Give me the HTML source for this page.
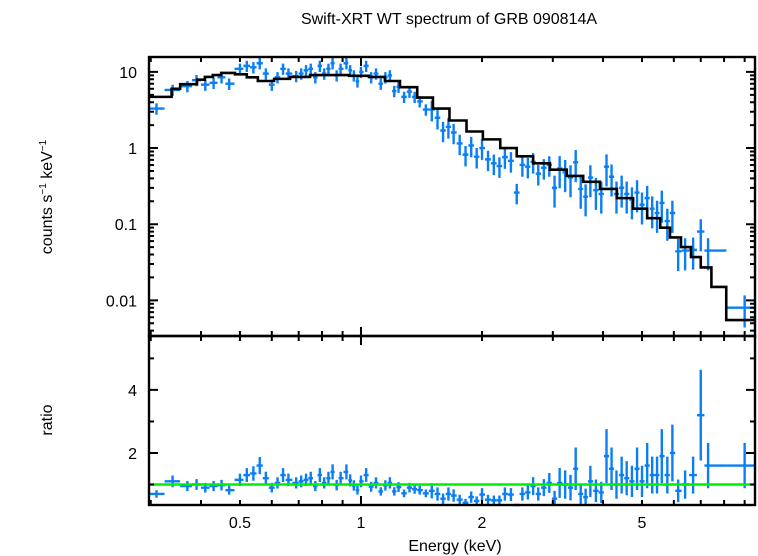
<!DOCTYPE html>
<html><head><meta charset="utf-8"><style>
html,body{margin:0;padding:0;background:#fff;width:758px;height:556px;overflow:hidden}
svg text{font-family:"Liberation Sans",sans-serif;fill:#000}
</style></head><body>
<svg id="chart" width="758" height="556" viewBox="0 0 758 556" xmlns="http://www.w3.org/2000/svg">
<text x="449" y="24" font-size="16" text-anchor="middle">Swift-XRT WT spectrum of GRB 090814A</text>
<text transform="translate(52,197) rotate(-90)" font-size="16" text-anchor="middle">counts s<tspan font-size="10" dy="-6">−1</tspan><tspan dy="6"> keV</tspan><tspan font-size="10" dy="-6">−1</tspan></text>
<text transform="translate(52,420) rotate(-90)" font-size="16" text-anchor="middle">ratio</text>
<text x="455" y="551" font-size="16" text-anchor="middle">Energy (keV)</text>
<g id="g"></g>
</svg>
<script>
const modelE=[0.297,0.338,0.355,0.391,0.409,0.428,0.449,0.486,0.52,0.554,0.608,0.666,0.747,0.934,1.047,1.147,1.25,1.38,1.51,1.66,1.83,2.01,2.22,2.44,2.68,2.95,3.25,3.57,3.93,4.33,4.75,5.15,5.55,5.87,6.25,6.62,7.0,7.44,8.1,9.55];
const modelV=[4.7,6.0,6.9,7.9,8.6,9.1,9.7,9.3,8.5,7.6,8.1,8.6,9.1,8.9,8.6,7.6,6.3,4.6,3.3,2.3,1.65,1.3,1.0,0.78,0.63,0.52,0.43,0.36,0.29,0.22,0.16,0.12,0.09,0.067,0.05,0.037,0.027,0.015,0.0055];
const dataE=[0.31,0.34,0.37,0.39,0.41,0.43,0.45,0.47,0.50,0.52,0.54,0.56,0.58,0.60,0.62,0.64,0.66,0.69,0.71,0.73,0.75,0.77,0.79,0.81,0.83,0.85,0.87,0.89,0.92,0.94,0.96,0.98,1.00,1.03,1.06,1.09,1.12,1.15,1.18,1.21,1.24,1.28,1.32,1.36,1.40,1.45,1.50,1.55,1.60,1.65,1.70,1.76,1.82,1.88,1.94,2.00,2.07,2.14,2.21,2.28,2.36,2.44,2.52,2.60,2.68,2.76,2.85,2.94,3.03,3.12,3.22,3.32,3.42,3.52,3.62,3.72,3.84,3.96,4.08,4.20,4.32,4.45,4.58,4.72,4.86,5.00,5.15,5.30,5.45,5.60,5.78,5.95,6.15,6.40,6.70,7.00,7.30,9.0];
const dataCounts=[3.3,5.8,6.5,7.8,6.8,7.2,8.5,7.0,11,12,11.5,13,9.5,6.8,8.5,11,9.5,8.8,9.5,10.5,11,8.5,12,9.5,11,13,9,11,13,10.5,9,7.5,10,12,8.5,9.5,7,8.5,9,5.6,6.4,4.7,5.5,4.7,4.1,3.2,3.2,2.5,1.7,1.9,1.6,1.15,0.82,1.08,0.77,1.0,0.71,0.63,0.58,0.76,0.68,0.26,0.6,0.57,0.66,0.46,0.55,0.6,0.3,0.54,0.48,0.41,0.65,0.29,0.23,0.41,0.28,0.25,0.57,0.42,0.25,0.3,0.25,0.21,0.26,0.18,0.22,0.16,0.14,0.19,0.11,0.14,0.044,0.045,0.046,0.08,0.045,0.008];
const dataRatio=[0.7,1.1,0.95,1.0,0.9,0.95,0.98,0.82,1.15,1.3,1.35,1.6,1.2,0.9,1.05,1.3,1.15,1.05,1.1,1.15,1.2,0.95,1.3,1.05,1.2,1.4,0.98,1.2,1.4,1.13,0.97,0.82,1.1,1.3,0.93,1.05,0.78,0.97,1.05,0.78,0.92,0.72,0.9,0.85,0.82,0.72,0.8,0.7,0.55,0.7,0.65,0.52,0.42,0.6,0.48,0.68,0.52,0.5,0.5,0.7,0.68,0.3,0.7,0.75,0.95,0.7,0.9,1.05,0.55,1.05,1.0,0.9,1.5,0.7,0.6,1.1,0.8,0.75,1.9,1.5,1.0,1.3,1.2,1.1,1.5,1.1,1.6,1.3,1.3,1.9,1.3,2.0,0.8,1.0,1.3,3.2,1.6,1.6];
const xTickVals=[0.5,1,2,5];
const yTopTickVals=[0.01,0.1,1,10];
const yTopTickLabels=["0.01","0.1","1","10"];
const yBotTickVals=[2,4];

const L=149,R=755,T=57,M=336,B=505;
const xMin=0.297,xMax=9.55;
const x=e=>L+(R-L)*(Math.log10(e)-Math.log10(xMin))/(Math.log10(xMax)-Math.log10(xMin));
const yTopMin=0.0034,yTopMax=15.7;
const yT=v=>M-(M-T)*(Math.log10(v)-Math.log10(yTopMin))/(Math.log10(yTopMax)-Math.log10(yTopMin));
const yRMin=0.35,yRMax=5.71;
const yB=v=>B-(B-M)*(v-yRMin)/(yRMax-yRMin);
const NS="http://www.w3.org/2000/svg";
const g=document.getElementById('g');
function mk(tag,attrs,parent){const el=document.createElementNS(NS,tag);for(const k in attrs)el.setAttribute(k,attrs[k]);(parent||g).appendChild(el);return el;}
const clamp=(v,a,b)=>Math.max(a,Math.min(b,v));

const pts=mk('g',{});


for(let i=0;i<dataE.length;i++){
  const e=dataE[i];
  const lo=i===0?xMin:Math.sqrt(dataE[i-1]*e);
  const hi=i===dataE.length-1?xMax:Math.sqrt(dataE[i+1]*e);
  const rel=e<1.5?0.17:(e<3?0.3:0.45);
  const c=dataCounts[i];
  const xc=x(e),x1=x(lo),x2=x(hi);
  let d=`M${x1},${clamp(yT(c),T,M)}H${x2}`;
  d+=`M${xc},${clamp(yT(c*(1+rel)),T,M)}V${clamp(yT(c*Math.max(0.05,1-rel)),T,M)}`;
  const r=dataRatio[i];
  d+=`M${x1},${clamp(yB(r),M,B)}H${x2}`;
  d+=`M${xc},${clamp(yB(r*(1+rel)),M,B)}V${clamp(yB(r*(1-rel)),M,B)}`;
  const p=mk('path',{d:d,stroke:'#0a7ff5','stroke-width':2.4,fill:'none'},pts);
  
  
}

let md='';
for(let i=0;i<modelV.length;i++){
  const x1=x(modelE[i]),x2=x(modelE[i+1]),yy=clamp(yT(modelV[i]),T,M);
  md+=(i===0?`M${x1},${yy}`:`V${yy}`)+`H${x2}`;
}
const model=mk('path',{d:md,stroke:'#000','stroke-width':2.6,fill:'none'});



const one=mk('line',{x1:L,x2:R,y1:yB(1),y2:yB(1),stroke:'#00ee00','stroke-width':2.4});



const f1=mk('rect',{x:L,y:T,width:R-L,height:M-T,fill:'none',stroke:'#000','stroke-width':2.4});


const f2=mk('rect',{x:L,y:M,width:R-L,height:B-M,fill:'none',stroke:'#000','stroke-width':2.4});



let td='';
for(let dec=0.1;dec<20;dec*=10){for(let k=1;k<10;k++){const e=dec*k;if(e<xMin||e>xMax)continue;const xx=x(e);const len=(k===1)?9:5;
  td+=`M${xx},${T}v${len}M${xx},${M}v${-len}M${xx},${M}v${len}M${xx},${B}v${-len}`;}}
for(let dec=0.001;dec<20;dec*=10){for(let k=1;k<10;k++){const v=dec*k;if(v<yTopMin||v>yTopMax)continue;const yy=yT(v);const len=(k===1)?9:5;
  td+=`M${L},${yy}h${len}M${R},${yy}h${-len}`;}}
for(let v=1;v<=5;v++){const yy=yB(v);const len=(v%2===0)?9:5;td+=`M${L},${yy}h${len}M${R},${yy}h${-len}`;}
const ticks=mk('path',{d:td,stroke:'#000','stroke-width':2,fill:'none'});



xTickVals.forEach(v=>{const t=mk('text',{x:x(v),y:528,'font-size':16,'text-anchor':'middle'});t.textContent=String(v);
  
  });
yTopTickVals.forEach((v,i)=>{const t=mk('text',{x:137,y:yT(v)+6,'font-size':16,'text-anchor':'end'});t.textContent=yTopTickLabels[i];
  
  });
yBotTickVals.forEach(v=>{const t=mk('text',{x:137,y:yB(v)+6,'font-size':16,'text-anchor':'end'});t.textContent=String(v);
  
  });
</script>
</body></html>
